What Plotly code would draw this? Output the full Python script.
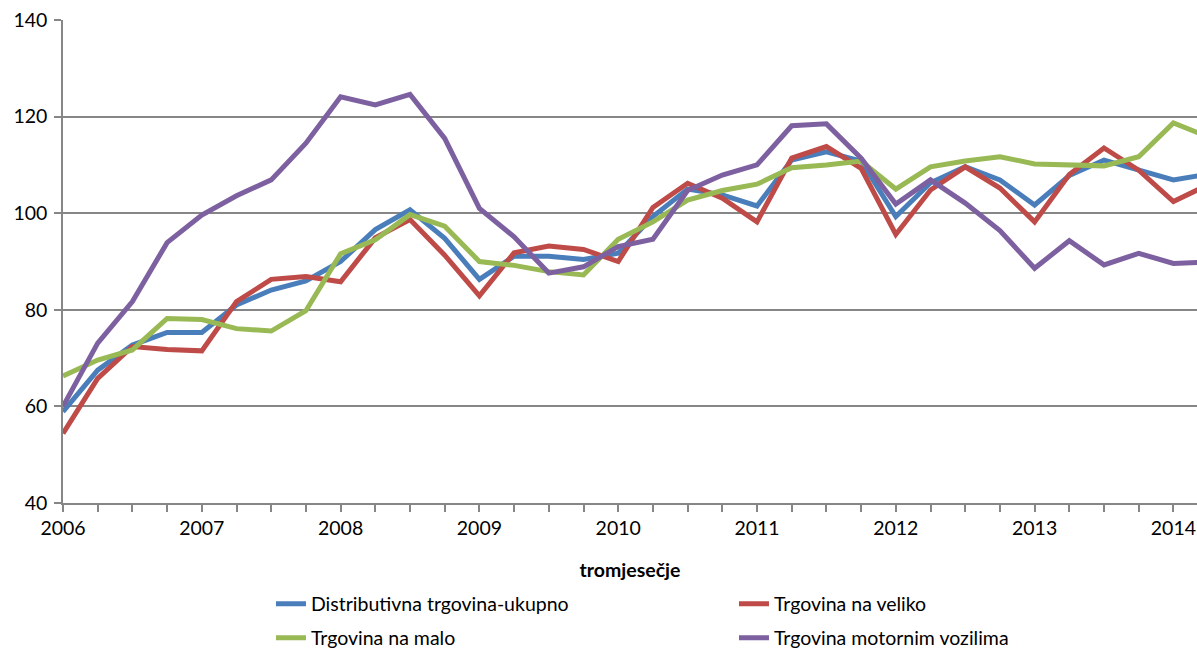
import plotly.graph_objects as go

years = ["2006", "2007", "2008", "2009", "2010", "2011", "2012", "2013", "2014"]
quarters = list(range(34))

ukupno = [58.9, 67.5, 72.7, 75.3, 75.3, 81.0, 84.1, 86.0, 90.0, 96.6,
          100.7, 94.8, 86.3, 91.1, 91.1, 90.4, 91.7, 99.3, 105.0, 103.8,
          101.5, 111.0, 112.7, 110.8, 99.3, 106.3, 109.6, 106.9, 101.7, 107.8,
          111.0, 108.9, 106.9, 108.1]
veliko = [54.4, 65.8, 72.4, 71.8, 71.5, 81.7, 86.3, 86.9, 85.8, 94.9,
          98.7, 91.3, 82.9, 91.8, 93.2, 92.5, 90.0, 101.2, 106.2, 103.1,
          98.2, 111.4, 113.8, 109.3, 95.6, 104.8, 109.6, 105.2, 98.2, 108.0,
          113.5, 108.9, 102.4, 105.9]
malo = [66.3, 69.6, 71.7, 78.2, 78.0, 76.1, 75.6, 79.8, 91.6, 94.5,
        99.7, 97.3, 90.0, 89.2, 87.9, 87.2, 94.6, 98.2, 102.7, 104.7,
        106.0, 109.4, 110.0, 110.8, 105.0, 109.6, 110.8, 111.7, 110.2, 109.9,
        109.8, 111.7, 118.7, 115.8]
vozila = [60.0, 73.1, 81.7, 93.9, 99.6, 103.6, 106.9, 114.5, 124.1, 122.4,
          124.6, 115.5, 101.0, 95.1, 87.6, 88.9, 93.1, 94.6, 104.7, 107.9,
          110.0, 118.1, 118.5, 111.4, 101.9, 106.9, 102.1, 96.4, 88.6, 94.3,
          89.3, 91.7, 89.6, 89.9]

series = [
    ("Distributivna trgovina-ukupno", ukupno, "#4A7EBB", "legend"),
    ("Trgovina na veliko", veliko, "#BE4B48", "legend"),
    ("Trgovina na malo", malo, "#98B954", "legend2"),
    ("Trgovina motornim vozilima", vozila, "#7D60A0", "legend2"),
]

font_family = "Lato, 'Open Sans', sans-serif"
fs = 19.5

fig = go.Figure()
for name, vals, col, lg in series:
    fig.add_trace(go.Scatter(x=quarters, y=vals, mode="lines", name=name,
                             legend=lg, line=dict(color=col, width=5)))

tickvals = list(range(33))
ticktext = [years[i // 4] if i % 4 == 0 else "" for i in tickvals]

legend_common = dict(orientation="h", x=0.1834, xanchor="left", yanchor="middle",
                     entrywidth=418, entrywidthmode="pixels",
                     font=dict(size=fs, family=font_family), bgcolor="rgba(0,0,0,0)")

fig.update_layout(
    width=1197, height=649,
    margin=dict(l=63, r=0, t=20, b=146, autoexpand=False),
    paper_bgcolor="white", plot_bgcolor="white",
    font=dict(family=font_family, size=fs, color="black"),
    showlegend=True,
    legend=dict(legend_common, y=-0.2091),
    legend2=dict(legend_common, y=-0.2795),
    xaxis=dict(range=[0, 32.68], tickmode="array", tickvals=tickvals, ticktext=ticktext,
               ticks="outside", ticklen=7, tickcolor="#868686", tickwidth=1.5,
               showline=True, linecolor="#868686", linewidth=1.5,
               showgrid=False, zeroline=False, automargin=False,
               ticklabeloverflow="allow",
               tickfont=dict(size=fs),
               title=dict(text="<b>tromjesečje</b>", font=dict(size=fs), standoff=25)),
    yaxis=dict(range=[40, 140], tickmode="array", tickvals=[40, 60, 80, 100, 120, 140],
               ticks="outside", ticklen=7, tickcolor="#868686", tickwidth=1.5,
               showline=True, linecolor="#868686", linewidth=1.5,
               showgrid=True, gridcolor="#868686", gridwidth=1.5, automargin=False,
               ticklabeloverflow="allow",
               zeroline=False, tickfont=dict(size=fs), ticklabelstandoff=3),
)

fig.write_html("out.html", config={"displayModeBar": False},
               post_script="document.body.style.margin='0';document.body.style.overflow='hidden';")
